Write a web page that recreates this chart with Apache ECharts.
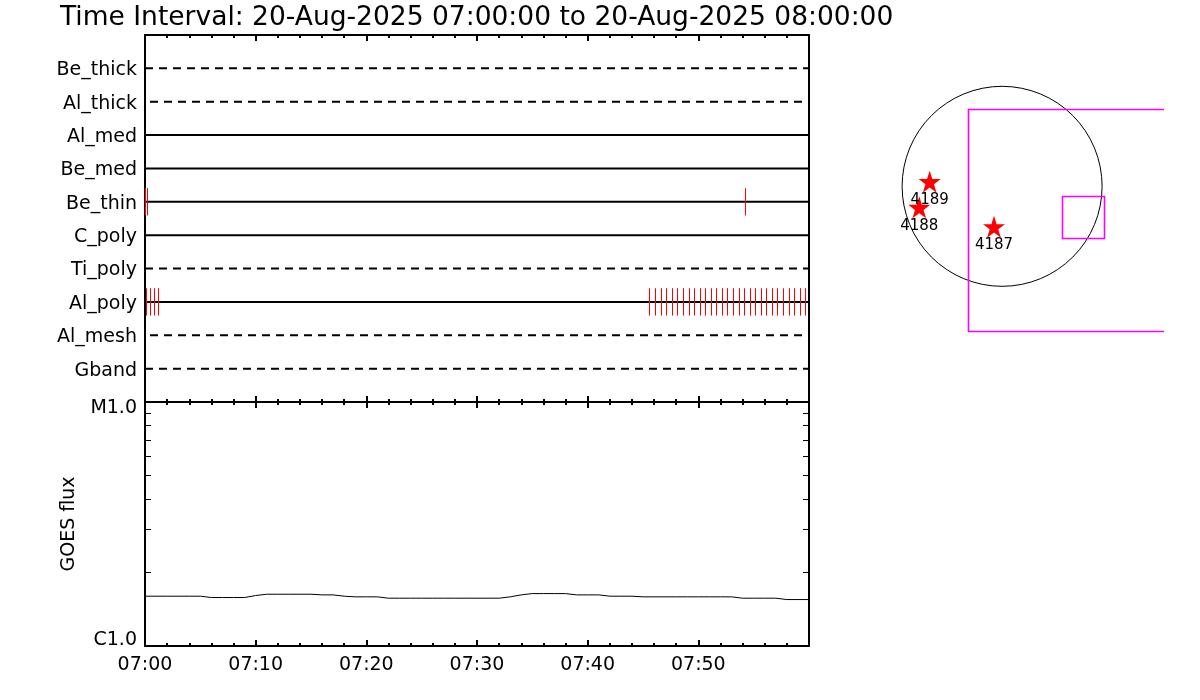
<!DOCTYPE html>
<html>
<head>
<meta charset="utf-8">
<script src="https://cdn.jsdelivr.net/npm/echarts@6/dist/echarts.min.js"></script>
<style>
html,body{margin:0;padding:0;background:#fff;}
#chart{width:1200px;height:700px;}
</style>
</head>
<body>
<div id="chart"></div>
<script>
// ---------- data ----------
const titleText = 'Time Interval: 20-Aug-2025 07:00:00 to 20-Aug-2025 08:00:00';
const timeLabels = ['07:00', '07:10', '07:20', '07:30', '07:40', '07:50'];
// channels from bottom (row 1) to top (row 10)
const channels = ['Gband', 'Al_mesh', 'Al_poly', 'Ti_poly', 'C_poly', 'Be_thin', 'Be_med', 'Al_med', 'Al_thick', 'Be_thick'];
const channelDashed = [true, true, false, true, false, false, false, false, true, true];
// event ticks (minutes after 07:00)
const beThinEvents = [0.0, 0.15, 54.24];
const alPolyEvents = [0.09, 0.45, 0.81, 1.2,
  45.57, 46.08, 46.60, 47.11, 47.62, 48.10, 48.61, 49.13, 49.61, 50.12,
  50.63, 51.12, 51.62, 52.14, 52.62, 53.13, 53.65, 54.13, 54.64, 55.15,
  55.64, 56.14, 56.66, 57.14, 57.65, 58.17, 58.64, 59.16, 59.67];
// GOES flux (W/m^2), one value per minute 07:00 .. 08:00
const goesMinutes = [0,1,2,3,4,5,6,7,8,9,10,11,12,13,14,15,16,17,18,19,20,21,22,23,24,25,26,27,28,29,30,
  31,32,33,34,35,36,37,38,39,40,41,42,43,44,45,46,47,48,49,50,51,52,53,54,55,56,57,58,59,60];
const goesFlux = [1.60e-6,1.60e-6,1.60e-6,1.60e-6,1.60e-6,1.60e-6,
  1.58e-6,1.58e-6,1.58e-6,1.58e-6,
  1.61e-6,
  1.63e-6,1.63e-6,1.63e-6,1.63e-6,1.63e-6,
  1.62e-6,1.62e-6,
  1.60e-6,
  1.59e-6,1.59e-6,1.59e-6,
  1.57e-6,1.57e-6,1.57e-6,1.57e-6,1.57e-6,1.57e-6,1.57e-6,1.57e-6,1.57e-6,1.57e-6,1.57e-6,
  1.59e-6,
  1.62e-6,
  1.64e-6,1.64e-6,1.64e-6,1.64e-6,
  1.62e-6,1.62e-6,1.62e-6,
  1.60e-6,1.60e-6,1.60e-6,
  1.59e-6,1.59e-6,1.59e-6,1.59e-6,1.59e-6,1.59e-6,1.59e-6,1.59e-6,1.59e-6,
  1.57e-6,1.57e-6,1.57e-6,1.57e-6,
  1.55e-6,1.55e-6,1.55e-6];
const fluxTickValues = [1e-6, 2e-6, 3e-6, 4e-6, 5e-6, 6e-6, 7e-6, 8e-6, 9e-6, 1e-5];
const fluxLabelValues = [1e-6, 1e-5];
const fluxLabelNames = ['C1.0', 'M1.0'];
// solar disk panel (arcsec)
const sunRadius = 950;
const fovBox = [-327, -1375, 1721, 731];   // x0, y0, x1, y1
const subBox = [570, -495, 970, -95];
const regionNames = ['4187', '4188', '4189'];
const regionX = [-77, -787, -688];
const regionY = [-384, -200, 44];

// ---------- chart ----------
const FONT = 'DejaVu Sans';
const chart = echarts.init(document.getElementById('chart'), null, {renderer: 'canvas'});

function tickSeriesRender(row) {
  return function (params, api) {
    const t = api.value(0);
    const p0 = api.coord([t, row - 0.41]);
    const p1 = api.coord([t, row + 0.41]);
    const x = Math.round(p0[0]) + 0.5;
    return {type: 'line', shape: {x1: x, y1: p0[1], x2: x, y2: p1[1]},
      style: {stroke: '#ff0000', lineWidth: 1, opacity: 1}};
  };
}

const series = [];
channels.forEach(function (name, i) {
  const row = i + 1;
  const dashed = channelDashed[i];
  series.push({
    type: 'line', xAxisIndex: 0, yAxisIndex: 0,
    data: [[0, row], [60, row]],
    showSymbol: false, silent: true, animation: false,
    lineStyle: {color: '#000', width: 2, type: dashed ? [8, 6] : 'solid', dashOffset: (name === 'Al_thick' || name === 'Al_mesh') ? 9 : 0}
  });
});
series.push({
  type: 'custom', xAxisIndex: 0, yAxisIndex: 0, animation: false,
  data: beThinEvents.map(function (t) { return [t]; }),
  renderItem: tickSeriesRender(channels.indexOf('Be_thin') + 1), z: 5
});
series.push({
  type: 'custom', xAxisIndex: 0, yAxisIndex: 0, animation: false,
  data: alPolyEvents.map(function (t) { return [t]; }),
  renderItem: tickSeriesRender(channels.indexOf('Al_poly') + 1), z: 5
});
series.push({
  type: 'line', xAxisIndex: 2, yAxisIndex: 2, animation: false,
  data: goesMinutes.map(function (m, i) { return [m, goesFlux[i]]; }),
  showSymbol: false, lineStyle: {color: '#000', width: 1}
});
// right panel
series.push({
  type: 'custom', xAxisIndex: 4, yAxisIndex: 4, animation: false, clip: true,
  data: [[0, 0, sunRadius]],
  renderItem: function (params, api) {
    const c = api.coord([api.value(0), api.value(1)]);
    const r = api.size([api.value(2), 0])[0];
    return {type: 'circle', shape: {cx: c[0], cy: c[1], r: r},
      style: {fill: 'none', stroke: '#000', lineWidth: 1}};
  }
});
series.push({
  type: 'custom', xAxisIndex: 4, yAxisIndex: 4, animation: false, clip: true,
  data: [fovBox, subBox],
  renderItem: function (params, api) {
    const p0 = api.coord([api.value(0), api.value(3)]);
    const p1 = api.coord([api.value(2), api.value(1)]);
    return {type: 'rect', shape: {x: Math.round(p0[0]) + 0.5, y: Math.round(p0[1]) + 0.5,
      width: Math.round(p1[0] - p0[0]), height: Math.round(p1[1] - p0[1])},
      style: {fill: 'none', stroke: '#ff00ff', lineWidth: 1.6}};
  }
});
series.push({
  type: 'scatter', xAxisIndex: 4, yAxisIndex: 4, animation: false,
  data: regionNames.map(function (n, i) { return {name: n, value: [regionX[i], regionY[i]]}; }),
  symbol: 'path://M50,0 L61.8,35.5 L99,35.5 L69,57.5 L80.5,93 L50,71 L19.5,93 L31,57.5 L1,35.5 L38.2,35.5 Z',
  symbolSize: 22,
  itemStyle: {color: '#ff0000', opacity: 1},
  label: {show: true, position: 'bottom', distance: 0, formatter: '{b}', color: '#000',
    fontFamily: FONT, fontSize: 15, opacity: 1},
  z: 6
});

const axisLine = {show: true, onZero: false, lineStyle: {color: '#000', width: 2}};
const txt = {fontFamily: FONT, fontSize: 19, color: '#000'};

function timeAxis(grid, pos, labels) {
  return {
    type: 'value', gridIndex: grid, position: pos, min: 0, max: 60, interval: 10,
    axisLine: axisLine,
    axisTick: {show: true, inside: true, length: 6, lineStyle: {color: '#000', width: 2}},
    minorTick: {show: true, splitNumber: 5, length: 3, lineStyle: {color: '#000', width: 2}},
    splitLine: {show: false}, minorSplitLine: {show: false},
    axisLabel: labels ? Object.assign({show: true, margin: 10,
      formatter: function (v) { const k = Math.round(v / 10); return (k >= 0 && k < timeLabels.length) ? timeLabels[k] : ''; }}, txt)
      : {show: false}
  };
}
function fluxLabel(v) {
  for (let i = 0; i < fluxLabelValues.length; i++) {
    if (Math.abs(Math.log10(v) - Math.log10(fluxLabelValues[i])) < 0.01) return fluxLabelNames[i];
  }
  return '';
}
function fluxAxis(pos, labels) {
  return {
    type: 'log', logBase: 10, gridIndex: 1, position: pos, min: 1e-6, max: 1e-5,
    axisLine: axisLine,
    axisTick: {show: true, inside: true, length: 6, customValues: fluxTickValues, lineStyle: {color: '#000', width: 1}},
    splitLine: {show: false},
    axisLabel: labels ? Object.assign({show: true, margin: 8, customValues: fluxLabelValues, formatter: fluxLabel,
      lineHeight: 12, verticalAlignMinLabel: 'bottom', verticalAlignMaxLabel: 'top'}, txt) : {show: false},
    name: labels ? 'GOES flux' : '', nameLocation: 'middle', nameRotate: 90, nameGap: 66,
    nameTextStyle: txt
  };
}

const option = {
  backgroundColor: '#fff',
  animation: false,
  title: {text: titleText, left: 55, top: 0,
    textStyle: {fontFamily: FONT, fontSize: 26.5, fontWeight: 'normal', color: '#000'}},
  grid: [
    {left: 145, top: 35, width: 664, height: 367},
    {left: 145, top: 402, width: 664, height: 244},
    {left: 880, top: 60, width: 284, height: 300}
  ],
  xAxis: [
    timeAxis(0, 'bottom', false),
    timeAxis(0, 'top', false),
    timeAxis(1, 'bottom', true),
    timeAxis(1, 'top', false),
    {type: 'value', gridIndex: 2, min: -1160, max: 1538, show: false}
  ],
  yAxis: [
    {type: 'value', gridIndex: 0, position: 'left', min: 0, max: 11, interval: 1,
      axisLine: axisLine, axisTick: {show: false}, splitLine: {show: false},
      axisLabel: Object.assign({show: true, margin: 8, verticalAlign: 'top', lineHeight: 4,
        formatter: function (v) { return channels[Math.round(v) - 1] || ''; }}, txt)},
    {type: 'value', gridIndex: 0, position: 'right', min: 0, max: 11, interval: 1,
      axisLine: axisLine, axisTick: {show: false}, splitLine: {show: false}, axisLabel: {show: false}},
    fluxAxis('left', true),
    fluxAxis('right', false),
    {type: 'value', gridIndex: 2, min: -1650, max: 1200, show: false}
  ],
  series: series
};
chart.setOption(option);
</script>
</body>
</html>
